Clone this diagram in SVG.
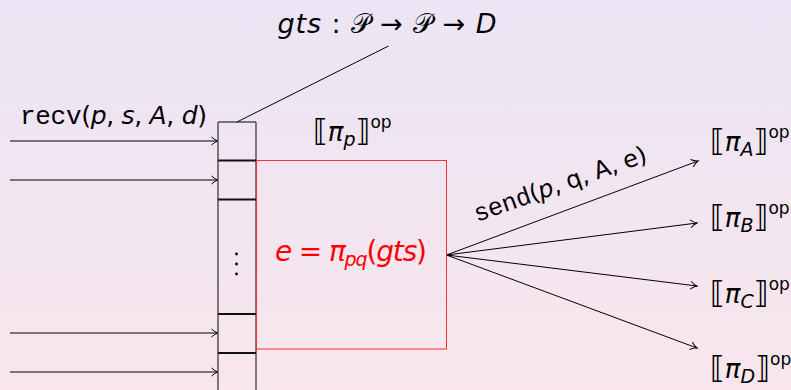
<svg xmlns="http://www.w3.org/2000/svg" width="791" height="390" viewBox="0 0 791 390">
<defs>
<linearGradient id="bg" x1="0" y1="0" x2="0" y2="1">
<stop offset="0" stop-color="#ebe5f5"/>
<stop offset="1" stop-color="#f8e6ec"/>
</linearGradient>
<marker id="arr" markerWidth="12" markerHeight="12" refX="9" refY="6" orient="auto" markerUnits="userSpaceOnUse">
<path d="M2.5,2 Q6,5.2 9,6 Q6,6.8 2.5,10" fill="none" stroke="#000" stroke-width="1"/>
</marker>
</defs>
<style>
.m{font-family:"DejaVu Sans",sans-serif;fill:#000;}
.tt{font-family:"Liberation Mono",monospace;}
.it{font-style:italic;}
.ln{stroke:#000;stroke-width:1;fill:none;}
.red{fill:#ff0000;}
.br{font-size:30px;}
.pi{font-size:26px;font-style:italic;}
.sb{font-size:19px;font-style:italic;}
.op{font-size:17px;}
</style>
<rect width="791" height="390" fill="url(#bg)"/>

<g id="connectors">
<line class="ln" x1="237" y1="122" x2="388.5" y2="46"/>
<line class="ln" x1="10" y1="141" x2="218" y2="141" marker-end="url(#arr)"/>
<line class="ln" x1="10" y1="180" x2="218" y2="180" marker-end="url(#arr)"/>
<line class="ln" x1="10" y1="333" x2="218" y2="333" marker-end="url(#arr)"/>
<line class="ln" x1="10" y1="372" x2="218" y2="372" marker-end="url(#arr)"/>
<line class="ln" x1="446.5" y1="255" x2="698" y2="161" marker-end="url(#arr)"/>
<line class="ln" x1="446.5" y1="255" x2="697" y2="223" marker-end="url(#arr)"/>
<line class="ln" x1="446.5" y1="255" x2="697" y2="286" marker-end="url(#arr)"/>
<line class="ln" x1="446.5" y1="255" x2="697" y2="348" marker-end="url(#arr)"/>
<text class="m" font-size="24" transform="translate(477,222) rotate(-19.5)" textLength="182" lengthAdjust="spacing"><tspan class="tt" font-size="25">send</tspan>(<tspan class="it">p</tspan>, q, A, e)</text>
</g>

<g id="title">
<text class="m" font-size="27" x="277.5" y="33" textLength="219" lengthAdjust="spacing"><tspan class="it">gts</tspan> : 𝒫 → 𝒫 → <tspan class="it">D</tspan></text>
</g>

<g id="recv-label">
<text class="m" font-size="25" x="20" y="124" textLength="187" lengthAdjust="spacing"><tspan class="tt" font-size="26">recv</tspan>(<tspan class="it">p</tspan>, <tspan class="it">s</tspan>, <tspan class="it">A</tspan>, <tspan class="it">d</tspan>)</text>
</g>

<g id="queue">
<line x1="218" y1="122" x2="256" y2="122" stroke="#000" stroke-width="1"/>
<line x1="218" y1="122" x2="218" y2="390" stroke="#555" stroke-width="1.5"/>
<line x1="256" y1="122" x2="256" y2="390" stroke="#555" stroke-width="1.5"/>
<line x1="218" y1="160.5" x2="256" y2="160.5" stroke="#111" stroke-width="2"/>
<line x1="218" y1="199.5" x2="256" y2="199.5" stroke="#111" stroke-width="2"/>
<line x1="218" y1="314" x2="256" y2="314" stroke="#111" stroke-width="2"/>
<line x1="218" y1="353" x2="256" y2="353" stroke="#111" stroke-width="2"/>
<circle cx="236.5" cy="254" r="1.4" fill="#000"/>
<circle cx="236.5" cy="264" r="1.4" fill="#000"/>
<circle cx="236.5" cy="274" r="1.4" fill="#000"/>
</g>

<g id="pi-p">
<text class="m" x="313" y="141"><tspan class="br">⟦</tspan><tspan class="pi">π</tspan><tspan class="sb" dy="5">p</tspan><tspan class="br" dy="-5">⟧</tspan><tspan class="op" dy="-13">op</tspan></text>
</g>

<g id="process">
<rect x="256.5" y="160.5" width="190" height="188.5" fill="none" stroke="#ff3030" stroke-width="1"/>
<text class="m red" font-size="28" x="275" y="261" textLength="152" lengthAdjust="spacing"><tspan class="it">e</tspan> = <tspan class="it">π</tspan><tspan class="it" font-size="19" dy="5">pq</tspan><tspan dy="-5">(</tspan><tspan class="it">gts</tspan>)</text>
</g>

<g id="piA"><text class="m" x="710" y="151"><tspan class="br">⟦</tspan><tspan class="pi">π</tspan><tspan class="sb" dy="5">A</tspan><tspan class="br" dy="-5">⟧</tspan><tspan class="op" dy="-13">op</tspan></text></g>
<g id="piB"><text class="m" x="710" y="227"><tspan class="br">⟦</tspan><tspan class="pi">π</tspan><tspan class="sb" dy="5">B</tspan><tspan class="br" dy="-5">⟧</tspan><tspan class="op" dy="-13">op</tspan></text></g>
<g id="piC"><text class="m" x="710" y="302.5"><tspan class="br">⟦</tspan><tspan class="pi">π</tspan><tspan class="sb" dy="5">C</tspan><tspan class="br" dy="-5">⟧</tspan><tspan class="op" dy="-13">op</tspan></text></g>
<g id="piD"><text class="m" x="710" y="378"><tspan class="br">⟦</tspan><tspan class="pi">π</tspan><tspan class="sb" dy="5">D</tspan><tspan class="br" dy="-5">⟧</tspan><tspan class="op" dy="-13">op</tspan></text></g>
</svg>
